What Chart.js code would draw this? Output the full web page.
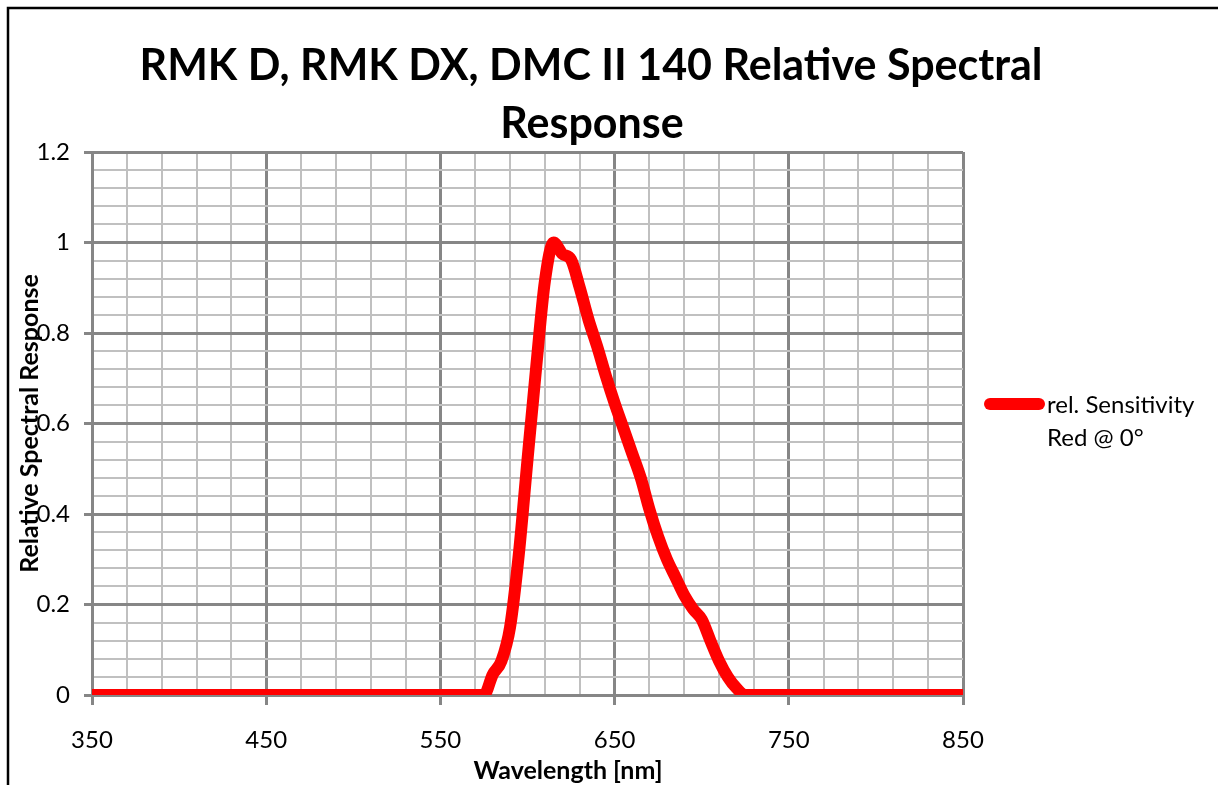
<!DOCTYPE html>
<html><head><meta charset="utf-8">
<script src="https://cdn.jsdelivr.net/npm/chart.js@4/dist/chart.umd.min.js"></script>
<style>html,body{margin:0;padding:0;background:#fff;overflow:hidden}#wrap{width:1218px;height:785px;position:relative}</style>
</head><body><div id="wrap"><canvas id="c" width="1218" height="785"></canvas></div>
<script>
const titleLines = ['RMK D, RMK DX, DMC II 140 Relative Spectral', 'Response'];
const xAxisTitle = 'Wavelength [nm]';
const yAxisTitle = 'Relative Spectral Response';
const seriesLabel = ['rel. Sensitivity', 'Red @ 0°'];
const wavelengths = [350, 400, 450, 500, 550, 575, 580, 585, 590, 595, 600, 605, 610, 615, 620, 625, 630, 635, 640, 645, 650, 655, 660, 665, 670, 675, 680, 685, 690, 695, 700, 705, 710, 715, 720, 725, 750, 800, 850];
const response =    [0,   0,   0,   0,   0,   0,   0.045, 0.075, 0.15, 0.31, 0.52, 0.725, 0.915, 1.0, 0.975, 0.962, 0.9, 0.83, 0.77, 0.705, 0.645, 0.59, 0.535, 0.48, 0.41, 0.35, 0.3, 0.26, 0.22, 0.19, 0.167, 0.12, 0.075, 0.04, 0.015, 0, 0, 0, 0];
const xTickLabels = [350, 450, 550, 650, 750, 850];
const yTickLabels = [0, 0.2, 0.4, 0.6, 0.8, 1, 1.2];

const FONT = 'Lato, "Open Sans", sans-serif';
const majorX = v => xTickLabels.some(t => Math.abs(t - v) < 1e-6);
const majorY = v => yTickLabels.some(t => Math.abs(t - v) < 1e-6);
const MAJOR = '#868686', MINOR = '#c0c0c0';

const decor = {
  id: 'decor',
  beforeDraw(chart) {
    const ctx = chart.ctx;
    ctx.save();
    ctx.fillStyle = '#fff';
    ctx.fillRect(0, 0, chart.width, chart.height);
    ctx.strokeStyle = '#000';
    ctx.lineWidth = 2.5;
    ctx.strokeRect(8, 8, 1400, 1000);
    ctx.restore();
  },
  afterDraw(chart) {
    const ctx = chart.ctx;
    ctx.save();
    ctx.fillStyle = '#000';
    ctx.textAlign = 'center';
    ctx.textBaseline = 'middle';
    ctx.font = 'bold 40px ' + FONT;
    const w = ctx.measureText(titleLines[0]).width;
    const size = 40 * 903 / w;
    ctx.font = 'bold ' + size.toFixed(2) + 'px ' + FONT;
    ctx.fillText(titleLines[0], 591, 66);
    ctx.fillText(titleLines[1], 592, 124);
    ctx.font = 'bold 25px ' + FONT;
    ctx.fillText(xAxisTitle, 568, 771);
    // legend
    ctx.strokeStyle = '#ff0000';
    ctx.lineWidth = 12;
    ctx.lineCap = 'round';
    ctx.beginPath();
    ctx.moveTo(990, 404);
    ctx.lineTo(1039, 404);
    ctx.stroke();
    ctx.font = '24px ' + FONT;
    ctx.textAlign = 'left';
    ctx.fillText(seriesLabel[0], 1047, 405);
    ctx.fillText(seriesLabel[1], 1047, 438);
    ctx.restore();
  }
};

new Chart(document.getElementById('c'), {
  type: 'line',
  data: {
    datasets: [{
      label: seriesLabel.join(' '),
      data: wavelengths.map((x, i) => ({x: x, y: response[i]})),
      borderColor: '#ff0000',
      borderWidth: 12,
      pointRadius: 0,
      fill: false,
      cubicInterpolationMode: 'monotone',
      borderJoinStyle: 'round',
      borderCapStyle: 'butt'
    }]
  },
  options: {
    responsive: false,
    animation: false,
    devicePixelRatio: 1,
    layout: {padding: {top: 152, right: 255, left: 0, bottom: 0}},
    plugins: {legend: {display: false}, title: {display: false}, tooltip: {enabled: false}},
    scales: {
      x: {
        type: 'linear', min: 350, max: 850,
        afterFit(s) { s.height = 90; },
        ticks: {
          stepSize: 20, autoSkip: false, maxRotation: 0,
          color: '#000', font: {family: FONT, size: 24}, padding: 21,
          callback: v => majorX(v) ? String(Math.round(v)) : ''
        },
        grid: {
          color: c => majorX(c.tick.value) ? MAJOR : MINOR,
          lineWidth: c => majorX(c.tick.value) ? 3 : 2,
          tickColor: c => majorX(c.tick.value) ? MAJOR : 'rgba(0,0,0,0)',
          tickLength: 10, drawTicks: true
        },
        border: {color: MAJOR, width: 3}
      },
      y: {
        type: 'linear', min: 0, max: 1.2,
        afterFit(s) { s.width = 92; },
        ticks: {
          stepSize: 0.04, autoSkip: false,
          color: '#000', font: {family: FONT, size: 24}, padding: 14,
          callback: v => majorY(v) ? String(Math.round(v * 10) / 10) : ''
        },
        grid: {
          color: c => majorY(c.tick.value) ? MAJOR : MINOR,
          lineWidth: c => majorY(c.tick.value) ? 3 : 2,
          tickColor: c => majorY(c.tick.value) ? MAJOR : 'rgba(0,0,0,0)',
          tickLength: 8, drawTicks: true
        },
        border: {color: MAJOR, width: 3},
        title: {display: true, text: yAxisTitle, color: '#000', font: {family: FONT, size: 25, weight: 'bold'}, padding: {top: 15, bottom: 0}}
      }
    }
  },
  plugins: [decor]
});
</script></body></html>
